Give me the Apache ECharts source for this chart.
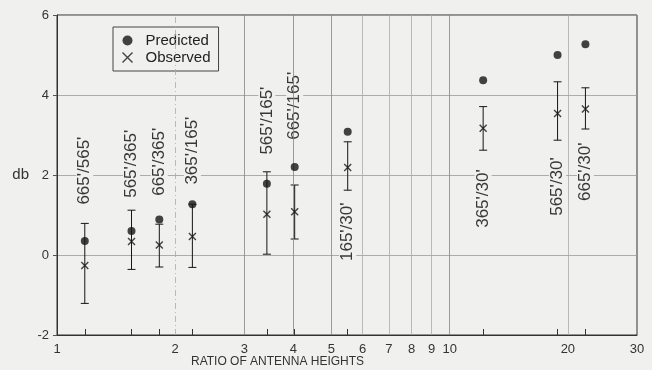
<!DOCTYPE html>
<html>
<head>
<meta charset="utf-8">
<script src="https://cdn.jsdelivr.net/npm/echarts@6/dist/echarts.min.js"></script>
<style>
html, body { margin: 0; padding: 0; background: #f0f0ee; }
#main { width: 652px; height: 370px; }
</style>
</head>
<body>
<div id="main"></div>
<script>
// antenna pairs and their height ratio
var pairs = ["665'/565'", "565'/365'", "665'/365'", "365'/165'", "565'/165'", "665'/165'", "165'/30'", "365'/30'", "565'/30'", "665'/30'"];
var ratios = [1.177, 1.548, 1.822, 2.212, 3.424, 4.03, 5.5, 12.17, 18.83, 22.17];
// db values
var predicted = [0.35, 0.60, 0.89, 1.27, 1.78, 2.20, 3.08, 4.37, 5.00, 5.27];
var observed = [-0.26, 0.34, 0.25, 0.46, 1.02, 1.08, 2.19, 3.17, 3.54, 3.65];
var obsLow = [-1.21, -0.36, -0.30, -0.31, 0.02, 0.40, 1.62, 2.62, 2.87, 3.15];
var obsHigh = [0.79, 1.12, 0.77, 1.27, 2.08, 1.75, 2.83, 3.71, 4.33, 4.18];
// where each pair label starts (db)
var labelAt = [1.21, 1.38, 1.43, 1.71, 2.46, 2.83, -0.20, 0.63, 0.93, 1.30];
// axis ticks
var xTicks = [1, 2, 3, 4, 5, 6, 7, 8, 9, 10, 20, 30];
var gridX = [2, 3, 4, 5, 6, 7, 8, 9, 10, 20];
var yTicks = [-2, 0, 2, 4, 6];

var font = "'Liberation Sans', Arial, sans-serif";
var ink = '#151515';

var barData = ratios.map(function (r, i) { return [r, obsLow[i], obsHigh[i]]; });
var predData = ratios.map(function (r, i) { return [r, predicted[i]]; });
var obsData = ratios.map(function (r, i) { return [r, observed[i]]; });
var lblData = ratios.map(function (r, i) { return [r, labelAt[i], pairs[i]]; });

var crossPath = 'path://M0,0L10,10M10,0L0,10';

var chartDom = document.getElementById('main');
var myChart = echarts.init(chartDom);

var option = {
    backgroundColor: '#f0f0ee',
    animation: false,
    textStyle: { fontFamily: font },
    grid: {
        left: 57, right: 15, top: 15, bottom: 35,
        show: true,
        borderColor: '#333',
        borderWidth: 1
    },
    title: {
        text: 'RATIO OF ANTENNA HEIGHTS',
        left: 191, top: 356,
        padding: 0,
        textStyle: { fontSize: 12, fontWeight: 'normal', color: '#333', fontFamily: font }
    },
    legend: {
        left: 113, top: 27,
        orient: 'vertical',
        padding: [6, 8, 6, 7],
        itemGap: 2,
        itemWidth: 10, itemHeight: 10,
        borderColor: '#444', borderWidth: 1,
        textStyle: { fontSize: 15, color: '#222', lineHeight: 15, padding: [0, 0, 0, 8], fontFamily: font },
        data: [
            { name: 'Predicted', icon: 'circle', itemStyle: { color: ink } },
            { name: 'Observed', icon: crossPath, itemStyle: { color: 'none', borderColor: ink, borderWidth: 1.4 } }
        ]
    },
    xAxis: {
        type: 'log',
        logBase: 10,
        min: 1, max: 30,
        axisLine: { show: true, onZero: false, lineStyle: { color: '#333', width: 1 } },
        axisTick: { show: true, inside: true, length: 6, customValues: ratios, lineStyle: { color: '#333' } },
        axisLabel: { customValues: xTicks, margin: 8, fontSize: 13, color: '#333', fontFamily: font },
        splitLine: { show: false },
        minorTick: { show: false }
    },
    yAxis: {
        type: 'value',
        min: -2, max: 6, interval: 2,
        name: 'db',
        nameLocation: 'middle',
        nameRotate: 0,
        nameGap: 28,
        nameTextStyle: { fontSize: 15, color: '#333', fontFamily: font },
        axisLine: { show: true, lineStyle: { color: '#333' } },
        axisTick: { show: true, length: 4, lineStyle: { color: '#555' } },
        axisLabel: { margin: 8, fontSize: 13, color: '#333', fontFamily: font },
        splitLine: { show: true, lineStyle: { color: '#9a9a9a', width: 0.8 } }
    },
    series: [
        {
            name: 'range',
            type: 'custom',
            silent: true,
            data: barData,
            encode: { x: 0, y: [1, 2] },
            renderItem: function (params, api) {
                var lo = api.coord([api.value(0), api.value(1)]);
                var hi = api.coord([api.value(0), api.value(2)]);
                var w = 4;
                var st = { stroke: ink, lineWidth: 1 };
                return {
                    type: 'group',
                    children: [
                        { type: 'line', shape: { x1: lo[0], y1: lo[1], x2: hi[0], y2: hi[1] }, style: st },
                        { type: 'line', shape: { x1: lo[0] - w, y1: lo[1], x2: lo[0] + w, y2: lo[1] }, style: st },
                        { type: 'line', shape: { x1: hi[0] - w, y1: hi[1], x2: hi[0] + w, y2: hi[1] }, style: st }
                    ]
                };
            },
            markLine: {
                silent: true,
                symbol: 'none',
                label: { show: false },
                data: gridX.map(function (v) {
                    var light = (v === 2 || (v >= 6 && v <= 9) || v === 20);
                    return {
                        xAxis: v,
                        lineStyle: {
                            color: light ? '#ababab' : '#858585',
                            width: 0.8,
                            type: v === 2 ? [6, 3, 1, 3] : 'solid'
                        }
                    };
                })
            },
            z: 3
        },
        {
            name: 'Predicted',
            type: 'scatter',
            symbol: 'circle',
            symbolSize: 8,
            itemStyle: { color: ink },
            data: predData,
            z: 5
        },
        {
            name: 'Observed',
            type: 'scatter',
            symbol: crossPath,
            symbolSize: 7,
            itemStyle: { color: 'none', borderColor: ink, borderWidth: 1.4 },
            data: obsData,
            z: 5
        },
        {
            name: 'pairs',
            type: 'custom',
            silent: true,
            data: lblData,
            encode: { x: 0, y: 1 },
            renderItem: function (params, api) {
                var p = api.coord([api.value(0), api.value(1)]);
                return {
                    type: 'text',
                    x: p[0], y: p[1],
                    rotation: Math.PI / 2,
                    style: {
                        text: pairs[params.dataIndex],
                        fontSize: 17,
                        fontFamily: font,
                        fill: '#383838',
                        align: 'left',
                        verticalAlign: 'middle',
                        backgroundColor: '#f0f0ee',
                        padding: [0, 2]
                    }
                };
            },
            z: 4
        }
    ]
};

option && myChart.setOption(option);
</script>
</body>
</html>
